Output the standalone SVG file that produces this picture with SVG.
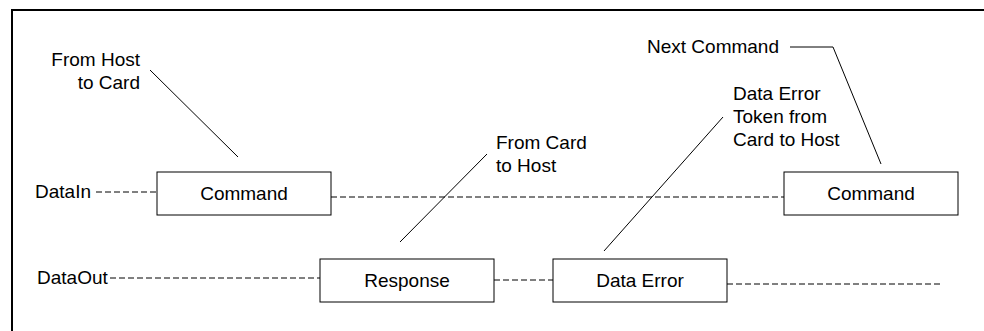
<svg xmlns="http://www.w3.org/2000/svg" width="984" height="331" viewBox="0 0 984 331">
<style>
.box{fill:#fff;stroke:#000;stroke-width:1}
.t{font-family:"Liberation Sans",Arial,sans-serif;font-size:19px;fill:#000}
.m{text-anchor:middle}
.e{text-anchor:end}
.dash{stroke:#000;stroke-width:1;stroke-dasharray:6,3;fill:none}
.lead{stroke:#000;stroke-width:1;fill:none}
</style>
<rect width="984" height="331" fill="#fff"/>
<g id="frame">
<line x1="11" y1="10" x2="984" y2="10" stroke="#000" stroke-width="2"/>
<line x1="12" y1="10" x2="12" y2="331" stroke="#000" stroke-width="2"/>
</g>
<g id="connectors">
<line class="dash" x1="96" y1="192" x2="157" y2="192"/>
<line class="dash" x1="331" y1="197" x2="784" y2="197"/>
<line class="dash" x1="110" y1="278" x2="320" y2="278"/>
<line class="dash" x1="494" y1="280" x2="553" y2="280"/>
<line class="dash" x1="727" y1="284" x2="943" y2="284"/>
<line class="lead" x1="150" y1="70" x2="238" y2="157"/>
<line class="lead" x1="487" y1="154" x2="400" y2="242"/>
<line class="lead" x1="723" y1="117" x2="604" y2="251"/>
<polyline class="lead" points="790,47 833,47 881,164"/>
</g>
<g id="label-datain"><text class="t" x="35" y="198">DataIn</text></g>
<g id="label-dataout"><text class="t" x="37" y="284">DataOut</text></g>
<g id="command1">
<rect class="box" x="157" y="172" width="174" height="43"/>
<text class="t m" x="244" y="200">Command</text>
</g>
<g id="response">
<rect class="box" x="320" y="259" width="174" height="43"/>
<text class="t m" x="407" y="287">Response</text>
</g>
<g id="dataerror">
<rect class="box" x="553" y="259" width="174" height="43"/>
<text class="t m" x="640" y="287">Data Error</text>
</g>
<g id="command2">
<rect class="box" x="784" y="172" width="174" height="43"/>
<text class="t m" x="871" y="200">Command</text>
</g>
<g id="note-host-to-card">
<text class="t e" x="140" y="66">From Host</text>
<text class="t e" x="140" y="89">to Card</text>
</g>
<g id="note-card-to-host">
<text class="t" x="496" y="149">From Card</text>
<text class="t" x="496" y="172">to Host</text>
</g>
<g id="note-data-error">
<text class="t" x="733" y="100">Data Error</text>
<text class="t" x="733" y="123">Token from</text>
<text class="t" x="733" y="146">Card to Host</text>
</g>
<g id="note-next-command">
<text class="t e" x="779" y="53">Next Command</text>
</g>
</svg>
